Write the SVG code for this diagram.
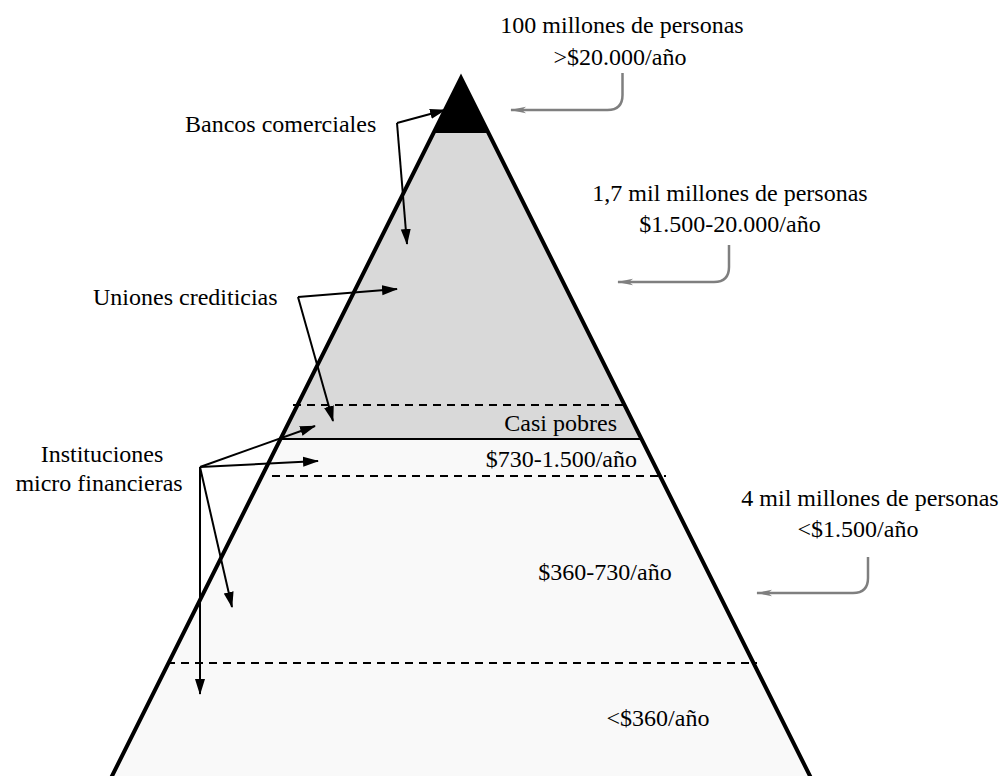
<svg xmlns="http://www.w3.org/2000/svg" width="1001" height="776" viewBox="0 0 1001 776">
  <style>
    text { font-family: "Liberation Serif", "Times New Roman", serif; font-size: 24px; fill: #000; }
    .m { text-anchor: middle; }
    .e { text-anchor: end; }
    .dash { stroke: #000; stroke-width: 2; stroke-dasharray: 8 6; fill: none; }
    .arr { stroke: #000; stroke-width: 2; fill: none; marker-end: url(#ah); }
    .garr { stroke: #7f7f7f; stroke-width: 2.5; fill: none; marker-end: url(#gh); }
  </style>
  <defs>
    <marker id="ah" markerUnits="userSpaceOnUse" markerWidth="16" markerHeight="12" viewBox="0 0 16 12" refX="15" refY="6" orient="auto">
      <path d="M0,1 L16,6 L0,11 z" fill="#000"/>
    </marker>
    <marker id="gh" markerUnits="userSpaceOnUse" markerWidth="16" markerHeight="8" viewBox="0 0 16 8" refX="15" refY="4" orient="auto">
      <path d="M0,0.8 L16,4 L0,7.2 L4,4 z" fill="#7f7f7f"/>
    </marker>
  </defs>

  <g id="pyramid">
    <polygon points="280.5,439 641.5,439 810,776 112,776" fill="#f9f9f9"/>
    <polygon points="433.5,133 488.5,133 641.5,439 280.5,439" fill="#d9d9d9"/>
    <polygon points="461,78 433.5,133 488.5,133" fill="#000"/>
    <line x1="281" y1="439" x2="641" y2="439" stroke="#000" stroke-width="2"/>
    <line class="dash" x1="293" y1="405" x2="627" y2="405"/>
    <line class="dash" x1="272" y1="476" x2="666" y2="476"/>
    <line class="dash" x1="167" y1="663" x2="757" y2="663"/>
    <polyline points="110,780 461,78 812,780" fill="none" stroke="#000" stroke-width="4" stroke-linejoin="miter"/>
  </g>

  <g id="labels-inside">
    <text class="e" x="617" y="431">Casi pobres</text>
    <text class="e" x="637" y="467">$730-1.500/año</text>
    <text class="m" x="605" y="580">$360-730/año</text>
    <text class="m" x="658" y="726">&lt;$360/año</text>
  </g>

  <g id="node-top">
    <text class="m" x="622" y="33">100 millones de personas</text>
    <text class="m" x="620" y="65">&gt;$20.000/año</text>
  </g>
  <g id="node-middle">
    <text class="m" x="730" y="201">1,7 mil millones de personas</text>
    <text class="m" x="730" y="232">$1.500-20.000/año</text>
  </g>
  <g id="node-bottom">
    <text class="m" x="870" y="506">4 mil millones de personas</text>
    <text class="m" x="858" y="537">&lt;$1.500/año</text>
  </g>

  <g id="node-bancos">
    <text x="185" y="132">Bancos comerciales</text>
  </g>
  <g id="node-uniones">
    <text x="93" y="305">Uniones crediticias</text>
  </g>
  <g id="node-instituciones">
    <text class="m" x="102" y="462">Instituciones</text>
    <text class="m" x="99" y="491">micro financieras</text>
  </g>

  <g id="connectors">
    <line class="arr" x1="397" y1="123" x2="445" y2="110"/>
    <line class="arr" x1="397" y1="123" x2="407" y2="244"/>
    <line class="arr" x1="298" y1="297" x2="397" y2="289"/>
    <line class="arr" x1="298" y1="297" x2="333" y2="421"/>
    <line class="arr" x1="200" y1="467" x2="315" y2="426"/>
    <line class="arr" x1="200" y1="467" x2="318" y2="461"/>
    <line class="arr" x1="200" y1="467" x2="232" y2="607"/>
    <line class="arr" x1="200" y1="467" x2="200" y2="694"/>
    <path class="garr" d="M622.5,73 V95 Q622.5,110 607.5,110 H511"/>
    <path class="garr" d="M729,245 V267 Q729,282 714,282 H618"/>
    <path class="garr" d="M868,557 V578 Q868,593 853,593 H757"/>
  </g>
</svg>
